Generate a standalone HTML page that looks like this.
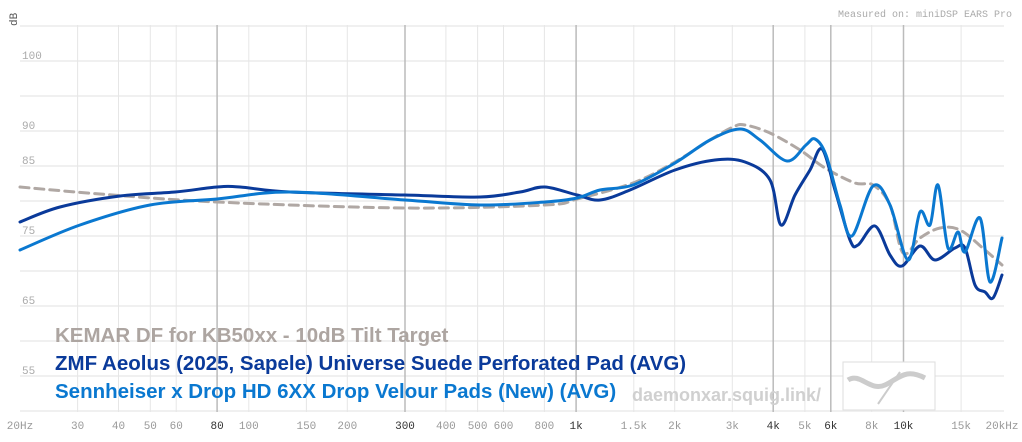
<!DOCTYPE html><html><head><meta charset="utf-8"><style>
body{margin:0;background:#fff;width:1022px;height:442px;overflow:hidden}
svg{display:block}
.t{font-family:"Liberation Mono",monospace;font-size:11px;fill:#999}
.lg{font-family:"Liberation Sans",sans-serif;font-weight:bold;font-size:20.5px}
</style></head><body>
<svg id="s" width="1022" height="442" xmlns="http://www.w3.org/2000/svg">
<g id="grid"></g>
<text x="1012" y="17" class="t" text-anchor="end" style="font-size:10px;fill:#aaa">Measured on: miniDSP EARS Pro</text>
<text x="17" y="26" class="t" transform="rotate(-90 17 26)" text-anchor="start" style="fill:#555">dB</text>
<g id="curves" fill="none" stroke-linecap="round" stroke-linejoin="round"></g>
<text x="55" y="342" class="lg" fill="#ada5a1">KEMAR DF for KB50xx - 10dB Tilt Target</text>
<text x="55" y="370" class="lg" fill="#0a3a9a">ZMF Aeolus (2025, Sapele) Universe Suede Perforated Pad (AVG)</text>
<text x="55" y="398" class="lg" fill="#0a78d0">Sennheiser x Drop HD 6XX Drop Velour Pads (New) (AVG)</text>
<text x="632" y="401" class="lg" fill="#d0d0d0" style="font-size:18px">daemonxar.squig.link/</text>
<rect x="843" y="362" width="92" height="48" fill="#fff" stroke="#ddd"/>
<path d="M848 380 C860 372 870 392 885 385 S905 368 925 378" stroke="#ccc" stroke-width="5" fill="none"/>
<path d="M878 404 L900 372" stroke="#ccc" stroke-width="2"/>
</svg>
<script>
const X=f=>20+Math.log10(f/20)/3*982;
const g=document.getElementById('grid');let h='';
for(let d=105;d>=50;d-=5){const y=61+(100-d)*7;h+=`<line x1="20" x2="1004" y1="${y}" y2="${y}" stroke="#f0f0f0" stroke-width="2"/>`;}
const lbl={100:1,90:1,85:1,75:1,65:1,55:1};
for(const d in lbl){h+=`<text class="t" x="22" y="${61+(100-d)*7-2}" style="font-size:11px;fill:#aaa">${d}</text>`;}
const fs=[[30,'30'],[40,'40'],[50,'50'],[60,'60'],[80,'80',1],[100,'100'],[150,'150'],[200,'200'],[300,'300',1],[400,'400'],[500,'500'],[600,'600'],[800,'800'],[1000,'1k',1],[1500,'1.5k'],[2000,'2k'],[3000,'3k'],[4000,'4k',1],[5000,'5k'],[6000,'6k',1],[8000,'8k'],[10000,'10k',1],[15000,'15k']];
for(const [f,l,m] of fs){const x=X(f).toFixed(1);h+=`<line x1="${x}" x2="${x}" y1="25" y2="412" stroke="${m?'#bbb':'#e6e6e6'}" stroke-width="${m?1.5:1}"/>`;h+=`<text class="t" x="${x}" y="429" text-anchor="middle" style="fill:${m?'#333':'#999'}">${l}</text>`;}
h+=`<text class="t" x="20" y="429" text-anchor="middle">20Hz</text><text class="t" x="1002" y="429" text-anchor="middle">20kHz</text>`;
g.innerHTML=h;
function path(p){let d=`M${p[0][0]} ${p[0][1]}`;for(let i=0;i<p.length-1;i++){const a=p[i-1]||p[i],b=p[i],c=p[i+1],e=p[i+2]||c;
d+=` C${b[0]+(c[0]-a[0])/6} ${b[1]+(c[1]-a[1])/6} ${c[0]-(e[0]-b[0])/6} ${c[1]-(e[1]-b[1])/6} ${c[0]} ${c[1]}`;}return d;}
const kem=[[20,187],[100,194],[217,202],[405,208],[545,205],[577,199],[633,183],[675,162],[710,140],[733,127],[745,125],[770,133],[800,150],[825,168],[855,183],[873,185],[890,205],[903,253],[920,238],[940,228],[960,230],[985,250],[1002,265]];
const zmf=[[20,222],[60,207],[120,196],[175,192],[217,187],[240,187],[290,192],[405,195],[480,197],[520,192],[545,187],[577,195],[600,200],[630,190],[675,170],[715,160],[745,162],[770,180],[781,225],[795,195],[810,170],[822,149],[835,190],[850,240],[858,245],[875,226],[890,255],[902,266],[920,246],[935,260],[955,248],[965,248],[975,285],[985,292],[993,298],[1002,275]];
const sen=[[20,250],[80,225],[150,205],[217,199],[290,192],[405,200],[480,205],[545,202],[577,198],[600,190],[633,185],[675,163],[710,140],[740,129],[760,140],[787,161],[806,145],[815,139],[826,155],[840,205],[852,236],[873,186],[890,205],[908,260],[920,212],[930,225],[938,185],[948,248],[958,232],[965,252],[980,218],[990,282],[1002,238]];
document.getElementById('curves').innerHTML=
`<path d="${path(kem)}" stroke="#b0a8a4" stroke-width="3" stroke-dasharray="9 6"/>`+
`<path d="${path(zmf)}" stroke="#0a3a9a" stroke-width="3"/>`+
`<path d="${path(sen)}" stroke="#0a78d0" stroke-width="3"/>`;
</script>
</body></html>
